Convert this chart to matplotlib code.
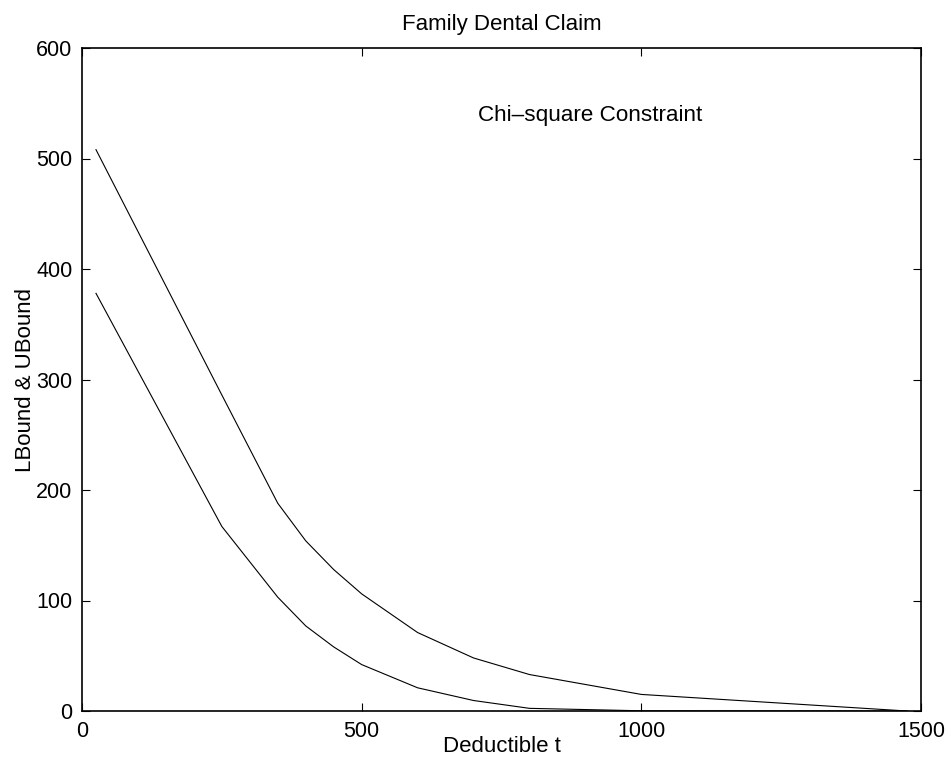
import matplotlib
matplotlib.use("Agg")
import matplotlib.pyplot as plt

# Deductible levels and the two bounds under the chi-square constraint
deductible = [25, 250, 350, 400, 450, 500, 600, 700, 800, 1000, 1475]
upper_bound = [508, 286, 188, 154, 128, 106, 71, 48, 33, 15, 0]
lower_bound = [378, 167, 103, 77, 58, 42, 21, 9.5, 2.4, 0.2, 0]

x_ticks = [0, 500, 1000, 1500]
y_ticks = [0, 100, 200, 300, 400, 500, 600]

plt.rcParams['font.family'] = ['Liberation Sans', 'DejaVu Sans']

fig = plt.figure(figsize=(9.51, 7.72), dpi=100)
ax = fig.add_axes([82 / 951, 1 - 711 / 772, (921 - 82) / 951, (711 - 48) / 772])

ax.plot(deductible, upper_bound, color='black', linewidth=0.8)
ax.plot(deductible, lower_bound, color='black', linewidth=0.8)

ax.set_xlim(0, 1500)
ax.set_ylim(0, 600)
ax.set_xticks(x_ticks)
ax.set_yticks(y_ticks)
ax.tick_params(direction='in', length=6, width=0.8, labelsize=15.5,
               top=True, right=True, pad=7)
for spine in ax.spines.values():
    spine.set_linewidth(1.2)

ax.set_title('Family Dental Claim', fontsize=16, pad=13)
ax.set_xlabel('Deductible t', fontsize=16, labelpad=-4)
ax.set_ylabel('LBound & UBound', fontsize=16, labelpad=0)
ax.text(908, 539, 'Chi\u2013square Constraint', fontsize=16.2,
        ha='center', va='center')

fig.savefig('out.png', dpi=100)
